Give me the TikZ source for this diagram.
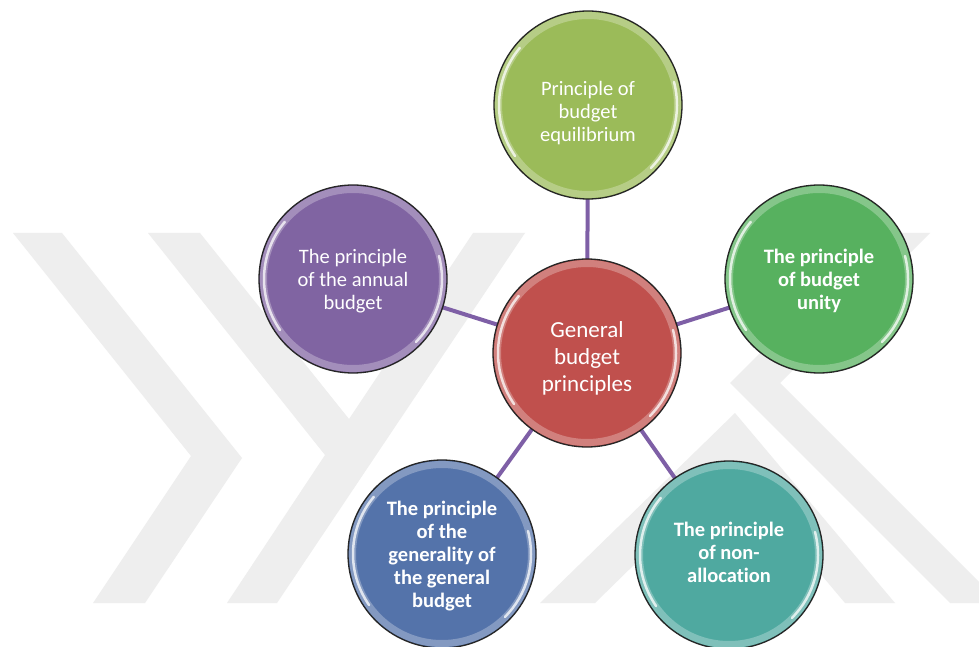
\documentclass[tikz,border=0pt]{standalone}
\usepackage{fontspec}
\setmainfont{Carlito}[Ligatures={NoCommon,NoContextual}]
\pgfdeclarelayer{bg}
\pgfsetlayers{bg,main}
% centred block of lines, drawn #1 lower but keeping its own size
\newcommand{\inbub}[2]{\raisebox{#1}[\height][\depth]{\begin{tabular}{@{}c@{}}#2\end{tabular}}}
\begin{document}
\begin{tikzpicture}[x=1pt,y=1pt,
  bubble/.style={circle, minimum size=188pt, inner sep=0pt, fill=#1,
    text=white, font=\fontsize{20.5}{23}\selectfont},
  hub/.style={bubble=#1, font=\fontsize{23}{27}\selectfont},
  link/.style={draw=linkc, line width=4pt},
  wmark/.style={fill=wmc}]
\definecolor{wmc}{HTML}{EEEEEE}
\definecolor{linkc}{HTML}{7E5FA6}
\definecolor{cTop}{HTML}{9BBB59}
\definecolor{cHub}{HTML}{C0504D}
\definecolor{cLeft}{HTML}{8064A2}
\definecolor{cRight}{HTML}{57B15F}
\definecolor{cBL}{HTML}{5473AA}
\definecolor{cBR}{HTML}{4FA9A0}
\useasboundingbox (0,0) rectangle (979,646);

% nodes
\node[hub=cHub]     (hub)   at (587,293) {\inbub{-6pt}{General\\budget\\principles}};
\node[bubble=cTop]  (top)   at (588,541) {\inbub{-9pt}{Principle of\\budget\\equilibrium}};
\node[bubble=cLeft] (left)  at (353,367) {\inbub{-3pt}{The principle\\of the annual\\budget}};
\node[bubble=cRight](right) at (819,367) {\bfseries\inbub{-3pt}{The principle\\of budget\\unity}};
\node[bubble=cBL]   (bl)    at (442,92)  {\bfseries\inbub{-3pt}{The principle\\of the\\generality of\\the general\\budget}};
\node[bubble=cBR]   (br)    at (729,91)  {\bfseries\inbub{0pt}{The principle\\of non-\\allocation}};

% glossy rim on every bubble
\foreach \n/\c in {hub/cHub, top/cTop, left/cLeft, right/cRight, bl/cBL, br/cBR}{
  \fill[\c!50!white, opacity=0.55, even odd rule] (\n.center) circle (93) (\n.center) circle (86);
  \draw[white, opacity=0.75, line width=2.5pt, line cap=round]
    (\n.center) ++(140:89) arc[start angle=140, end angle=215, radius=89];
  \draw[white, opacity=0.75, line width=2.5pt, line cap=round]
    (\n.center) ++(-45:89) arc[start angle=-45, end angle=15, radius=89];
  \draw[black!85, line width=1.3pt] (\n.center) circle (94);
}

\begin{pgfonlayer}{bg}
  \fill[white] (0,0) rectangle (979,646);
  % faint chevron marks behind the diagram
  \fill[wmark] (13,413) -- (62,413) -- (242,188) -- (145,43) -- (93,43) -- (191,190) -- cycle;
  \fill[wmark] (148,413) -- (200,413) -- (349,227) -- (473,413) -- (525,413) -- (277,43) -- (227,43) -- (325,191) -- cycle;
  \fill[wmark] (880,413) -- (930,413) -- (780,263) -- (1000,43) -- (950,43) -- (730,263) -- cycle;
  \fill[wmark] (540,43) -- (735,233) -- (895,43) -- (845,43) -- (732,177) -- (595,43) -- cycle;
  % connectors
  \draw[link] (hub.center) -- (top.center);
  \draw[link] (hub.center) -- (left.center);
  \draw[link] (hub.center) -- (right.center);
  \draw[link] (hub.center) -- (bl.center);
  \draw[link] (hub.center) -- (br.center);
\end{pgfonlayer}
\end{tikzpicture}
\end{document}
